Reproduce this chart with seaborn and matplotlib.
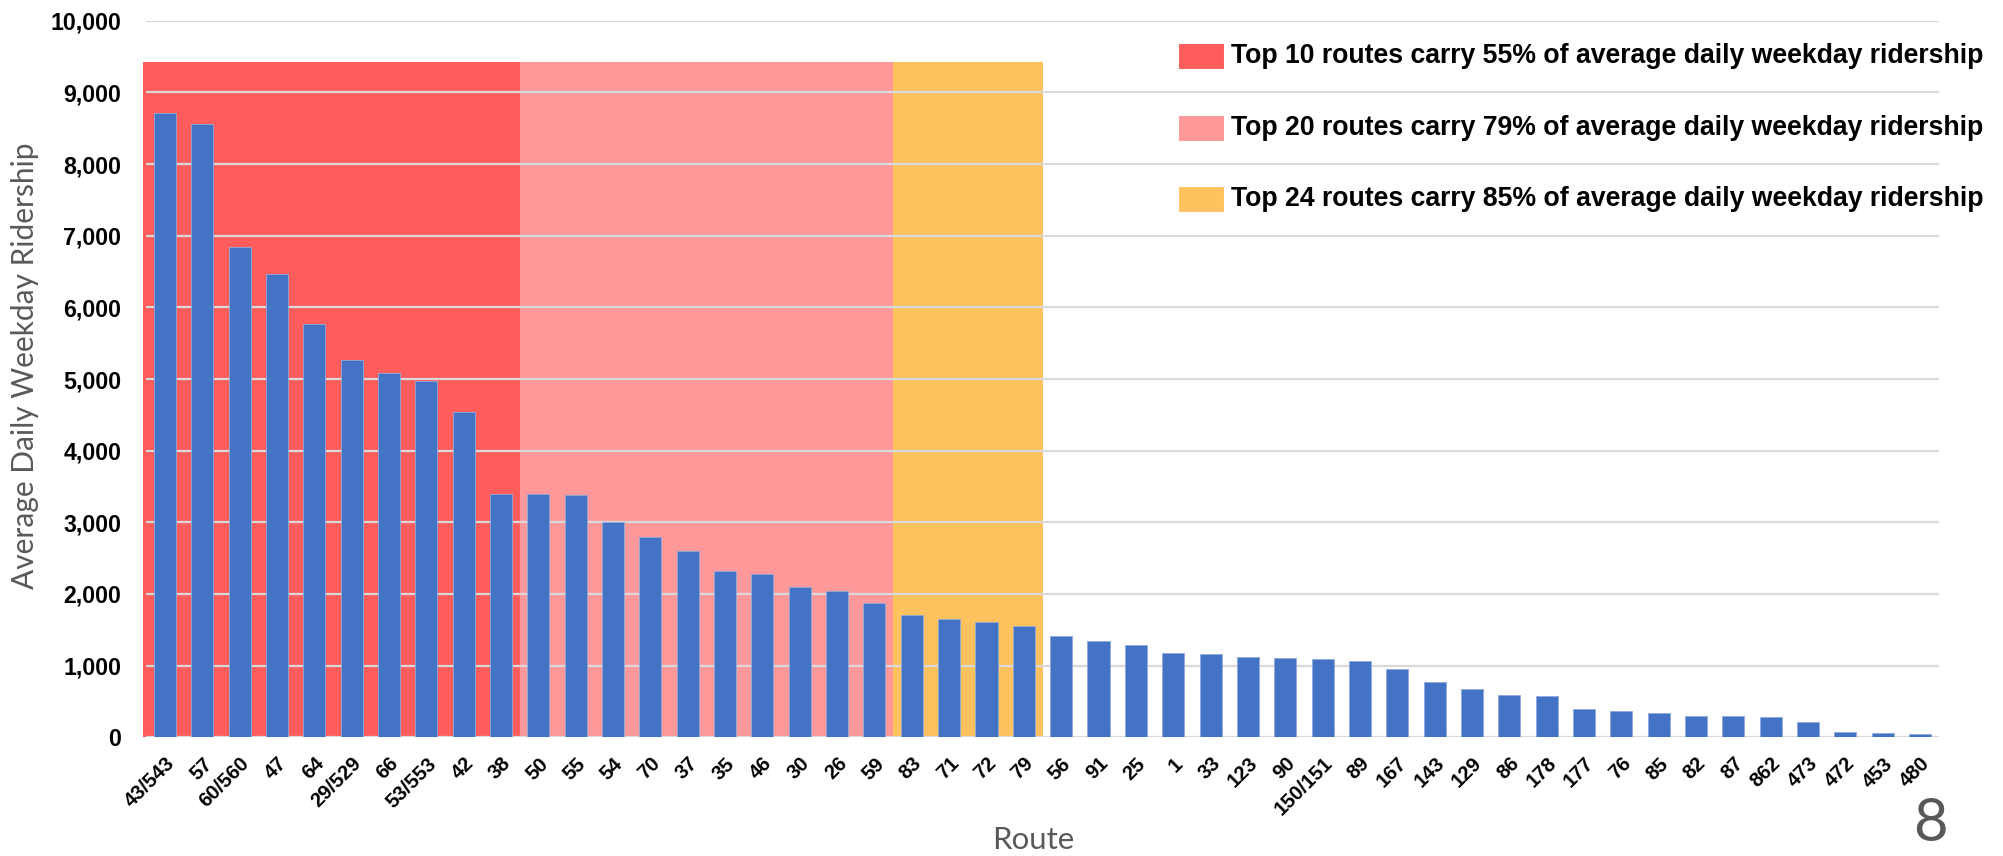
import matplotlib
matplotlib.use("Agg")
import matplotlib.pyplot as plt
from matplotlib.patches import Rectangle
from matplotlib.ticker import StrMethodFormatter
import seaborn as sns
import pandas as pd

# ---- data ----
routes = ["43/543", "57", "60/560", "47", "64", "29/529", "66", "53/553", "42", "38",
          "50", "55", "54", "70", "37", "35", "46", "30", "26", "59",
          "83", "71", "72", "79", "56", "91", "25", "1", "33", "123",
          "90", "150/151", "89", "167", "143", "129", "86", "178", "177", "76",
          "85", "82", "87", "862", "473", "472", "453", "480"]
ridership = [8710, 8560, 6840, 6470, 5765, 5265, 5085, 4975, 4535, 3395,
             3395, 3380, 3010, 2790, 2605, 2320, 2275, 2095, 2045, 1875,
             1710, 1650, 1610, 1550, 1415, 1345, 1285, 1170, 1165, 1115,
             1100, 1090, 1060, 960, 770, 670, 595, 580, 400, 365,
             340, 300, 293, 280, 215, 75, 60, 42]
tier_sizes = [10, 20, 24]
tier_labels = ["Top 10 routes carry 55% of average daily weekday ridership",
               "Top 20 routes carry 79% of average daily weekday ridership",
               "Top 24 routes carry 85% of average daily weekday ridership"]
y_ticks = list(range(0, 10001, 1000))

# ---- style ----
tier_colors = ["#FF5C5C", "#FF9999", "#FFC25E"]
bar_color = "#4472C4"
shade_top = 9430
W, H = 2003, 856

sns.set_theme(style="white")
bold_font = ["Liberation Sans", "DejaVu Sans"]
reg_font = ["Lato", "DejaVu Sans"]
plt.rcParams["font.family"] = bold_font

fig = plt.figure(figsize=(W / 100, H / 100), dpi=100)
ax = fig.add_axes([146.3 / W, 1 - 737.3 / H, (1938.7 - 146.3) / W, (737.3 - 20.7) / H])

df = pd.DataFrame({"route": routes, "riders": ridership})
sns.barplot(data=df, x="route", y="riders", order=routes, color=bar_color,
            saturation=1, width=0.59, ax=ax, zorder=3,
            edgecolor="#8FAADC", linewidth=0.6)

# tier shading
start = -0.58
for n, c in zip(tier_sizes, tier_colors):
    end = n - 0.5
    ax.add_patch(Rectangle((start, 0), end - start, shade_top, facecolor=c,
                           edgecolor="none", zorder=0.2, clip_on=False))
    start = end

ax.set_xlim(-0.5, len(routes) - 0.5)
ax.set_ylim(0, 10000)
ax.set_yticks(y_ticks)
ax.yaxis.set_major_formatter(StrMethodFormatter("{x:,.0f}"))
ax.set_axisbelow(True)
ax.yaxis.grid(True, color="#D9D9D9", linewidth=1.6, zorder=0.5)
ax.xaxis.grid(False)
for s in ax.spines.values():
    s.set_visible(False)
ax.tick_params(axis="y", length=0, pad=18, labelsize=16.7, labelcolor="black")
ax.tick_params(axis="x", length=0, pad=12, labelsize=14.6, labelcolor="black")
for lab in ax.get_yticklabels():
    lab.set_fontweight("bold")
for lab in ax.get_xticklabels():
    lab.set_fontweight("bold")
    lab.set_rotation(45)
    lab.set_ha("right")
    lab.set_va("top")
    lab.set_rotation_mode("anchor")
ax.set_xlabel("")
ax.set_ylabel("")

# axis titles
fig.text(25 / W, 1 - 366 / H, "Average Daily Weekday Ridership", rotation=90,
         ha="center", va="center", fontsize=21.5, color="#595959", family=reg_font)
fig.text(1033 / W, 1 - 840 / H, "Route", ha="center", va="center",
         fontsize=22.5, color="#595959", family=reg_font)
fig.text(1930 / W, 1 - 824 / H, "8", ha="center", va="center",
         fontsize=43, color="#595959", family=reg_font)

# legend
fig.canvas.draw()
renderer = fig.canvas.get_renderer()
centers = [56, 128, 199]
for lab, c, yc in zip(tier_labels, tier_colors, centers):
    t = fig.text(1231 / W, 1 - yc / H, lab, ha="left", va="center",
                 fontsize=20, fontweight="bold", color="black")
    w = t.get_window_extent(renderer).width
    t.set_fontsize(20 * 752 / w)
    fig.add_artist(Rectangle((1178 / W, 1 - (yc + 13) / H), 46 / W, 26 / H,
                             transform=fig.transFigure, facecolor=c,
                             edgecolor="white", linewidth=0.8))

fig.savefig("out.png", dpi=100)
